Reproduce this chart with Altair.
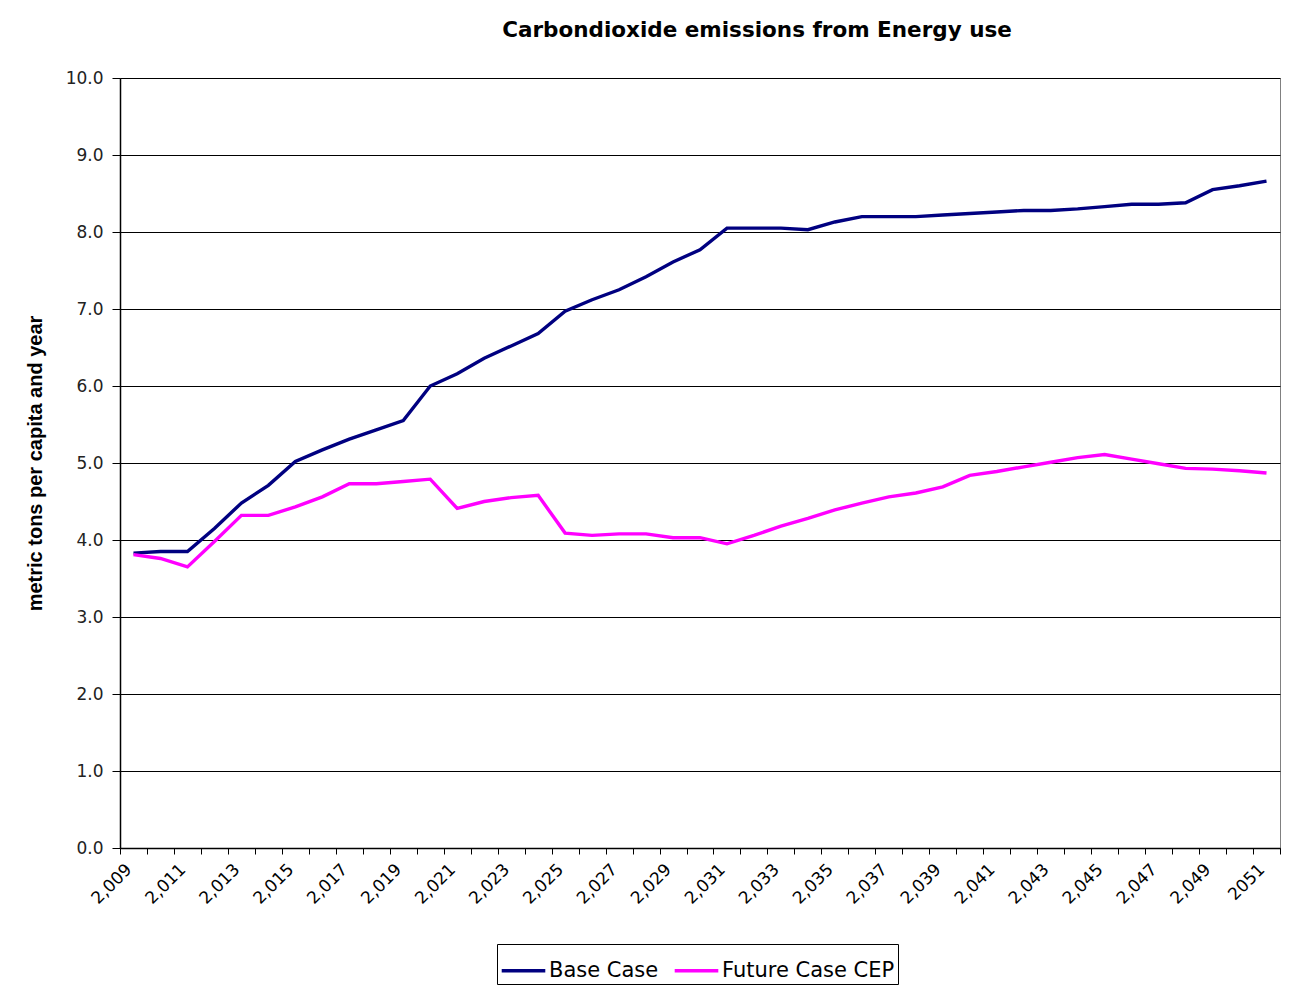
import altair as alt
import pandas as pd

years = list(range(2009, 2052))
series_names = ["Base Case", "Future Case CEP"]
base_case = [3.83, 3.85, 3.85, 4.15, 4.48, 4.71, 5.02, 5.17, 5.31, 5.43, 5.55,
             6.00, 6.16, 6.36, 6.52, 6.68, 6.97, 7.12, 7.25, 7.42, 7.61,
             7.77, 8.05, 8.05, 8.05, 8.03, 8.13, 8.20, 8.20, 8.20, 8.22, 8.24,
             8.26, 8.28, 8.28, 8.30, 8.33, 8.36, 8.36, 8.38, 8.55, 8.60, 8.66]
future_case = [3.81, 3.76, 3.65, 3.98, 4.32, 4.32, 4.43, 4.56, 4.73, 4.73, 4.76,
               4.79, 4.41, 4.50, 4.55, 4.58, 4.09, 4.06, 4.08, 4.08, 4.03,
               4.03, 3.95, 4.06, 4.18, 4.28, 4.39, 4.48, 4.56, 4.61, 4.69, 4.84,
               4.89, 4.95, 5.01, 5.07, 5.11, 5.05, 4.99, 4.93, 4.92, 4.90, 4.87]
y_ticks = [0, 1, 2, 3, 4, 5, 6, 7, 8, 9, 10]
x_boundaries = [2008.5 + k for k in range(44)]

df = pd.DataFrame({
    "year": years * 2,
    "value": base_case + future_case,
    "series": [series_names[0]] * len(years) + [series_names[1]] * len(years),
})

W, H = 1160, 770
FONT = "DejaVu Sans"

label_expr = ("(datum.value + 0.5) % 2 == 1 && datum.value < 2051 ? "
              "((datum.value + 0.5) == 2051 ? '2051' : format(datum.value + 0.5, ',')) : ''")

chart = alt.Chart(df).mark_line(strokeWidth=3.4).encode(
    x=alt.X("year:Q",
            scale=alt.Scale(domain=[2008.5, 2051.5], nice=False, zero=False),
            axis=alt.Axis(values=x_boundaries, labelExpr=label_expr, labelAngle=-45,
                          labelOffset=3, labelOverlap=False, labelFlush=False,
                          grid=False, title=None, tickSize=6, tickColor="black",
                          domainColor="black", domainWidth=1.5, tickWidth=1,
                          labelFont=FONT, labelFontSize=17, labelColor="black",
                          labelPadding=7)),
    y=alt.Y("value:Q",
            scale=alt.Scale(domain=[0, 10], nice=False),
            axis=alt.Axis(values=y_ticks, format=".1f", grid=True, gridColor="black",
                          gridWidth=1.2, tickSize=8, tickColor="black",
                          domainColor="black", domainWidth=1.5,
                          labelFont=FONT, labelFontSize=17, labelColor="#222222",
                          labelPadding=9,
                          title="metric tons per capita and year",
                          titleFont="Liberation Sans", titleFontSize=20,
                          titleFontWeight="bold", titleColor="black",
                          titleAngle=-90, titleX=-85, titleY=H / 2,
                          titleAlign="center", titleBaseline="middle")),
    color=alt.Color("series:N",
                    scale=alt.Scale(domain=series_names, range=["#000080", "#ff00ff"]),
                    legend=alt.Legend(orient="none", legendX=377, legendY=866,
                                      direction="horizontal", title=None,
                                      symbolType="stroke", symbolStrokeWidth=3.4,
                                      symbolSize=1900, labelFont=FONT,
                                      labelFontSize=21, labelColor="black",
                                      labelLimit=400,
                                      strokeColor="black", padding=3,
                                      columnPadding=8, labelOffset=2)),
).properties(
    width=W, height=H,
    title=alt.TitleParams("Carbondioxide emissions from Energy use",
                          font=FONT, fontSize=21.5, fontWeight="bold",
                          color="black", anchor="middle", dx=57, offset=28),
    autosize=alt.AutoSizeParams(type="none"),
    padding={"left": 112, "top": 70, "right": 2, "bottom": 140},
    background="white",
).configure_view(stroke="#808080")

chart.save("out.html", embed_options={"renderer": "svg", "actions": False})
